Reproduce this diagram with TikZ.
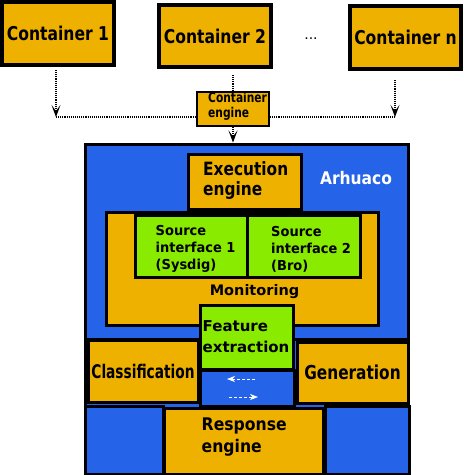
\documentclass[tikz,border=0pt]{standalone}
\usepackage{fontspec}
\usepackage{graphicx}
\setmainfont{DejaVu Sans}
\usetikzlibrary{arrows.meta}
\definecolor{ArhuacoOrange}{RGB}{239,177,0}
\definecolor{ArhuacoBlue}{RGB}{37,99,232}
\definecolor{ArhuacoGreen}{RGB}{137,235,0}
\newcommand{\sq}[2]{\scalebox{#1}[1]{#2}}

\begin{document}
\begin{tikzpicture}[x=1pt,y=-1pt,
  box/.style n args={4}{rectangle,draw,fill=#1,line width=#4pt,minimum width=#2pt,minimum height=#3pt,inner sep=0pt},
  txt/.style n args={2}{font=\fontsize{#1}{#2}\selectfont\bfseries,align=left,inner sep=0pt},
  flow/.style={densely dotted,line width=1.1pt},
  flowtip/.style={flow,-{Stealth[length=12pt,width=9pt,inset=6pt]}},
  swap/.style={white,densely dashed,line width=0.6pt,-{Stealth[length=8pt,width=6pt,inset=2.5pt]}}]
\useasboundingbox (0,0) rectangle (464,475);
% containers and engine
\node[box={ArhuacoOrange}{112}{63}{4},txt={19}{22}] (c1) at (58,33.5) {\sq{.82}{Container 1}};
\node[box={ArhuacoOrange}{112}{62}{4},txt={19}{22}] (c2) at (215,36) {\sq{.82}{Container 2}};
\node[box={ArhuacoOrange}{111}{63}{4},txt={19}{22}] (cn) at (405.5,37.5) {\sq{.82}{Container n}};
\node[font=\fontsize{14}{16}\selectfont] (dots) at (311,39) {...};
\node[box={ArhuacoOrange}{72}{34}{2}] (ce) at (233,109) {};
\node[txt={13.5}{15},anchor=west] (cet) at (208,106.5) {\sq{.79}{Container}\\\sq{.79}{engine}};
\coordinate (j1) at (56,117);
\coordinate (jn) at (395,117);
\coordinate (cnb) at (395,80);
% Arhuaco
\node[box={ArhuacoBlue}{323}{329.5}{3}] (arh) at (247,308.75) {};
\node[box={ArhuacoBlue}{323}{195}{3}] (arhtop) at (247,241.5) {};
\node[box={ArhuacoBlue}{78}{68}{3}] (bl) at (124,440) {};
\node[box={ArhuacoBlue}{84}{68}{3}] (br) at (367,440) {};
\node[box={ArhuacoOrange}{159}{66}{3}] (resp) at (243.5,441) {};
\node[txt={17.4}{22},anchor=west] (respt) at (201.5,437.5) {\sq{.9}{Response}\\\sq{.9}{engine}};
\node[box={ArhuacoOrange}{110}{62}{3},txt={18.8}{22}] (cls) at (143,371) {\sq{.73}{Classification}};
\node[box={ArhuacoOrange}{111}{61}{3},txt={19.2}{22}] (gen) at (352.5,372.5) {\sq{.8}{Generation}};
\node[box={ArhuacoBlue}{94}{36}{3}] (swp) at (247,388) {};
\node[box={ArhuacoOrange}{272}{113}{3}] (mon) at (242,268.5) {};
\node[txt={14.5}{17}] (mont) at (254.5,292) {Monitoring};
\node[box={ArhuacoOrange}{113}{55}{3}] (exe) at (244.5,181.5) {};
\node[txt={18.3}{20},anchor=west] (exet) at (203,180.5) {\sq{.84}{Execution}\\\sq{.84}{engine}};
\node[box={ArhuacoGreen}{112}{62}{3}] (si1) at (191,246) {};
\node[txt={13.7}{17},anchor=west] (si1t) at (155.5,249) {\sq{.95}{Source}\\\sq{.95}{interface 1}\\\sq{.95}{(Sysdig)}};
\node[box={ArhuacoGreen}{113}{62}{3}] (si2) at (303.5,246) {};
\node[txt={13.7}{17},anchor=west] (si2t) at (271,249) {\sq{.95}{Source}\\\sq{.95}{interface 2}\\\sq{.95}{(Bro)}};
\node[box={ArhuacoGreen}{93}{64}{3}] (fe) at (246.5,337) {};
\node[txt={15}{21},anchor=west] (fet) at (202.5,337) {Feature\\extraction};
\node[txt={17.4}{20},text=white] (arht) at (356,178) {\sq{.89}{Arhuaco}};
% connectors
\draw[flowtip] (c1.south) ++(-2,3) -- (j1);
\draw[flow] (j1) -- (ce.west |- j1);
\draw[flowtip] (cnb) -- (jn);
\draw[flow] (ce.east |- jn) -- (jn);
\draw[flow] (c2.south) ++(18,6) -- (ce.north);
\draw[flowtip] (ce.south) -- (ce.south |- arh.north);
\coordinate (sw1) at (255,379);
\coordinate (sw2) at (227,379);
\coordinate (sw3) at (229,397);
\coordinate (sw4) at (258,397);
\draw[swap] (sw1) -- (sw2);
\draw[swap] (sw3) -- (sw4);
\end{tikzpicture}
\end{document}
